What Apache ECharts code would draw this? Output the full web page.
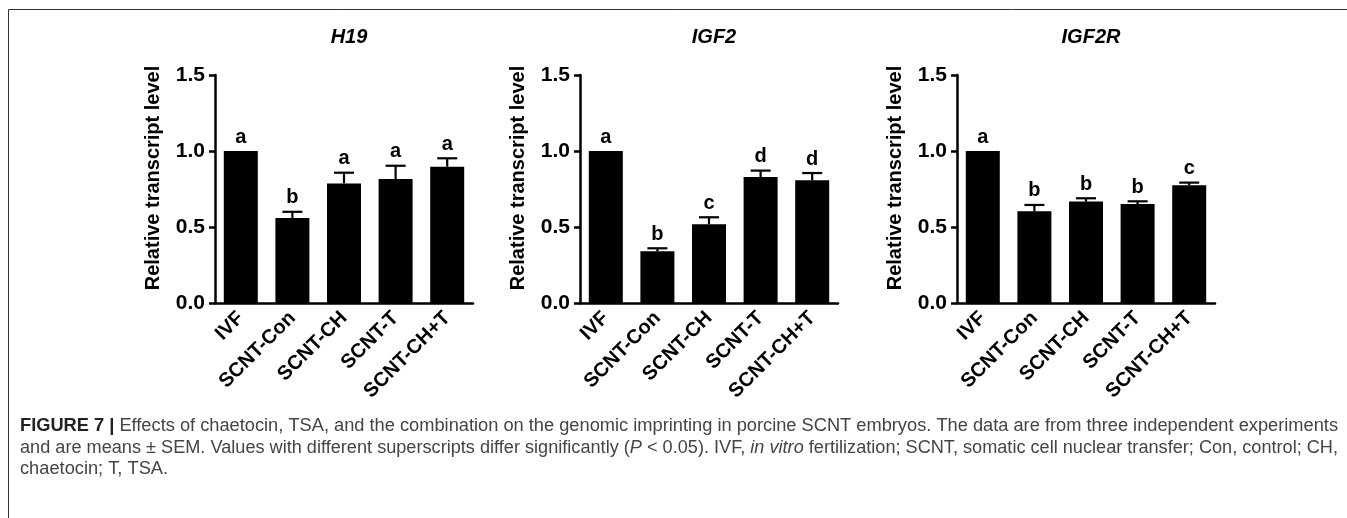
<!DOCTYPE html>
<html>
<head>
<meta charset="utf-8">
<script src="https://cdn.jsdelivr.net/npm/echarts@6/dist/echarts.min.js"></script>
<style>
html,body{margin:0;padding:0;background:#fff;}
#chart{width:1347px;height:518px;}
</style>
</head>
<body>
<div id="chart"></div>
<script>
// ---- data ----
const categories = ['IVF', 'SCNT-Con', 'SCNT-CH', 'SCNT-T', 'SCNT-CH+T'];
const panelTitles = ['H19', 'IGF2', 'IGF2R'];
const yTicks = [0.0, 0.5, 1.0, 1.5];
const yAxisTitle = 'Relative transcript level';

const h19Mean = [1.0, 0.56, 0.787, 0.816, 0.897];
const h19Sem = [0, 0.04, 0.07, 0.087, 0.055];
const h19Letters = ['a', 'b', 'a', 'a', 'a'];

const igf2Mean = [1.0, 0.34, 0.518, 0.829, 0.807];
const igf2Sem = [0, 0.02, 0.046, 0.042, 0.048];
const igf2Letters = ['a', 'b', 'c', 'd', 'd'];

const igf2rMean = [1.0, 0.603, 0.667, 0.651, 0.774];
const igf2rSem = [0, 0.042, 0.022, 0.018, 0.018];
const igf2rLetters = ['a', 'b', 'b', 'b', 'c'];

const captionLine1 = [['b', 'FIGURE 7 | '], ['n', 'Effects of chaetocin, TSA, and the combination on the genomic imprinting in porcine SCNT embryos. The data are from three independent experiments']];
const captionLine2 = [['n', 'and are means \u00B1 SEM. Values with different superscripts differ significantly ('], ['i', 'P'], ['n', ' < 0.05). IVF, '], ['i', 'in vitro'], ['n', ' fertilization; SCNT, somatic cell nuclear transfer; Con, control; CH,']];
const captionLine3 = [['n', 'chaetocin; T, TSA.']];

// ---- layout ----
const FONT = '"Liberation Sans", Arial, Helvetica, sans-serif';
const gridLefts = [215, 580, 957];
const gridWidth = 258;
const gridTop = 75;
const gridHeight = 228;

const means = [h19Mean, igf2Mean, igf2rMean];
const sems = [h19Sem, igf2Sem, igf2rSem];
const letters = [h19Letters, igf2Letters, igf2rLetters];

const grids = [], xAxes = [], yAxes = [], series = [], titles = [];
for (let p = 0; p < 3; p++) {
  grids.push({left: gridLefts[p], top: gridTop, width: gridWidth, height: gridHeight, containLabel: false});
  titles.push({
    text: panelTitles[p],
    left: gridLefts[p] + gridWidth / 2,
    top: 22,
    textAlign: 'center',
    textStyle: {fontFamily: FONT, fontSize: 20, fontWeight: 'bold', fontStyle: 'italic', color: '#000'}
  });
  xAxes.push({
    type: 'category', gridIndex: p, data: categories,
    axisLine: {lineStyle: {color: '#000', width: 2.5}},
    axisTick: {show: false},
    axisLabel: {rotate: 45, margin: 12, color: '#000', fontFamily: FONT, fontSize: 20, fontWeight: 'bold', interval: 0}
  });
  yAxes.push({
    type: 'value', gridIndex: p, min: 0, max: 1.5, interval: 0.5,
    name: yAxisTitle, nameLocation: 'middle', nameGap: 52, nameRotate: 90,
    nameTextStyle: {fontFamily: FONT, fontSize: 20, fontWeight: 'bold', color: '#000', padding: [0, 0, 0, 22]},
    axisLine: {show: true, lineStyle: {color: '#000', width: 2.5}},
    axisTick: {show: true, length: 6, lineStyle: {color: '#000', width: 2.5}},
    splitLine: {show: false},
    axisLabel: {margin: 10, color: '#000', fontFamily: FONT, fontSize: 21, fontWeight: 'bold',
      formatter: v => v.toFixed(1)}
  });
  series.push({
    type: 'bar', xAxisIndex: p, yAxisIndex: p, data: means[p],
    barWidth: 34, itemStyle: {color: '#000'}, silent: true, animation: false
  });
  const pi = p;
  series.push({
    type: 'custom', xAxisIndex: p, yAxisIndex: p, animation: false, silent: true,
    data: means[p].map((m, i) => [i, m, sems[p][i]]),
    renderItem: function (params, api) {
      const i = api.value(0), m = api.value(1), s = api.value(2);
      const base = api.coord([i, m]);
      const top = api.coord([i, m + s]);
      const children = [];
      if (s > 0) {
        children.push({type: 'line', shape: {x1: base[0], y1: base[1], x2: top[0], y2: top[1]}, style: {stroke: '#000', lineWidth: 2.2}});
        children.push({type: 'line', shape: {x1: top[0] - 10, y1: top[1], x2: top[0] + 10, y2: top[1]}, style: {stroke: '#000', lineWidth: 2.2}});
      }
      children.push({type: 'text', x: top[0], y: top[1] - 4,
        style: {text: letters[pi][i], font: 'bold 20px ' + FONT, fill: '#000', textAlign: 'center', textVerticalAlign: 'bottom'}});
      return {type: 'group', children: children};
    }
  });
}

// ---- caption (justified via horizontal scale) ----
const CAP_SIZE = 17.5;
const CAP_FAMILY = '"Liberation Sans Narrow", "Liberation Sans", Arial, sans-serif';
const capFonts = {
  b: 'bold ' + CAP_SIZE + 'px ' + CAP_FAMILY,
  n: CAP_SIZE + 'px ' + CAP_FAMILY,
  i: 'italic ' + CAP_SIZE + 'px ' + CAP_FAMILY
};
const ctx = document.createElement('canvas').getContext('2d');
function lineWidth(segs) {
  let w = 0;
  segs.forEach(([k, t]) => { ctx.font = capFonts[k]; w += ctx.measureText(t).width; });
  return w;
}
const capLeft = 20, capRight = 1338;
const sx1 = (capRight - capLeft) / lineWidth(captionLine1);
const sx2 = (capRight - capLeft) / lineWidth(captionLine2);
function capElem(segs, y, sx) {
  return {
    type: 'text', x: capLeft, y: y, scaleX: sx, scaleY: 1,
    style: {
      text: segs.map(([k, t]) => '{' + k + '|' + t + '}').join(''),
      rich: {
        b: {font: capFonts.b, fill: '#222'},
        n: {font: capFonts.n, fill: '#444'},
        i: {font: capFonts.i, fill: '#444'}
      },
      font: capFonts.n, fill: '#444', textVerticalAlign: 'middle', textAlign: 'left'
    }
  };
}

const graphic = [
  {type: 'polyline', shape: {points: [[8.5, 518], [8.5, 9.5], [1347, 9.5]]}, style: {stroke: '#333', lineWidth: 1, fill: null}},
  capElem(captionLine1, 426, sx1),
  capElem(captionLine2, 448, sx2),
  capElem(captionLine3, 469, sx1)
];

const chart = echarts.init(document.getElementById('chart'), null, {renderer: 'canvas'});
chart.setOption({
  animation: false,
  backgroundColor: '#fff',
  title: titles,
  grid: grids,
  xAxis: xAxes,
  yAxis: yAxes,
  series: series,
  graphic: graphic
});
</script>
</body>
</html>
